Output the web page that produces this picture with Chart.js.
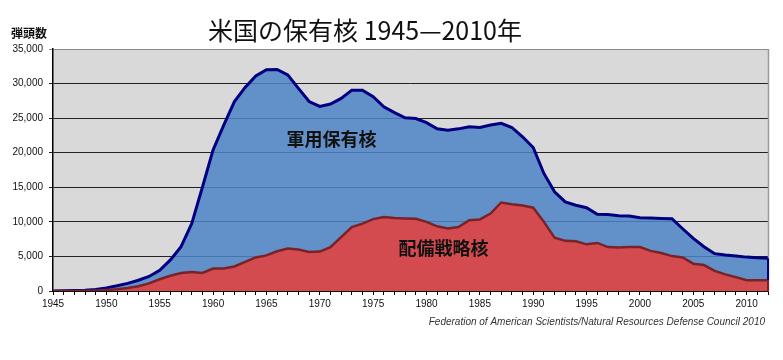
<!DOCTYPE html>
<html>
<head>
<meta charset="utf-8">
<script src="https://cdn.jsdelivr.net/npm/chart.js@4/dist/chart.umd.min.js"></script>
<style>
  body { margin: 0; background: #fff; }
  #wrap { width: 783px; height: 360px; }
</style>
</head>
<body>
<div id="wrap"><canvas id="nukeChart" width="783" height="360"></canvas></div>
<script>
// years 1945..2012
const years = [];
for (let y = 1945; y <= 2012; y++) years.push(y);

// total stockpile (軍用保有核)
const stockpile = [
  10, 30, 60, 120, 220, 450, 750, 1100, 1550, 2100,
  3000, 4500, 6400, 9750, 15000, 20400, 24000, 27400, 29450, 31100,
  32000, 32050, 31250, 29300, 27400, 26700, 27050, 27850, 29050, 29050,
  28100, 26650, 25800, 25050, 24950, 24350, 23450, 23250, 23450, 23750,
  23650, 24000, 24250, 23650, 22300, 20750, 17000, 14350, 12900, 12400,
  12050, 11100, 11050, 10900, 10850, 10600, 10550, 10500, 10450, 9000,
  7600, 6400, 5400, 5200, 5050, 4900, 4800, 4750
];

// deployed strategic (配備戦略核)
const deployed = [
  0, 0, 0, 20, 50, 150, 250, 450, 700, 1100,
  1700, 2200, 2600, 2750, 2600, 3250, 3250, 3550, 4200, 4850,
  5150, 5750, 6150, 6000, 5650, 5700, 6350, 7800, 9250, 9750,
  10400, 10700, 10550, 10500, 10450, 10000, 9350, 9050, 9250, 10250,
  10350, 11200, 12800, 12550, 12350, 12050, 10000, 7700, 7250, 7200,
  6750, 6950, 6350, 6300, 6350, 6350, 5800, 5500, 5050, 4850,
  3950, 3750, 2900, 2400, 2000, 1550, 1550, 1550
];

const yTicks = [0, 5000, 10000, 15000, 20000, 25000, 30000, 35000];
const xLabelYears = [1945, 1950, 1955, 1960, 1965, 1970, 1975, 1980, 1985, 1990, 1995, 2000, 2005, 2010];

const chartTitle = "米国の保有核 1945—2010年";
const yTitle = "弾頭数";
const sourceText = "Federation of American Scientists/Natural Resources Defense Council 2010";
// label text and where it sits, in data units
const seriesLabels = [
  { text: "軍用保有核", year: 1971.1, value: 22000 },
  { text: "配備戦略核", year: 1981.6, value: 6200 }
];

const cjk = "'Noto Sans CJK JP', 'Noto Sans', sans-serif";
const latin = "'Liberation Sans', Arial, sans-serif";

function toPoints(vals) {
  return years.map((yr, i) => ({ x: yr, y: vals[i] }));
}

const decorPlugin = {
  id: "decor",
  beforeDraw(chart) {
    const { ctx, chartArea: a } = chart;
    ctx.save();
    ctx.fillStyle = "#d9d9d9";
    ctx.fillRect(a.left, a.top, a.right - a.left, a.bottom - a.top);
    ctx.restore();
  },
  afterDraw(chart) {
    const { ctx, chartArea: a, scales } = chart;
    ctx.save();
    // right border, series edges run down it
    ctx.strokeStyle = "#9a9a9a";
    ctx.lineWidth = 1.5;
    ctx.beginPath();
    ctx.moveTo(a.right + 0.5, a.top);
    ctx.lineTo(a.right + 0.5, a.bottom);
    ctx.stroke();
    const last = years.length - 1;
    ctx.lineWidth = 2;
    ctx.strokeStyle = "#000080";
    ctx.beginPath();
    ctx.moveTo(a.right, scales.y.getPixelForValue(stockpile[last]));
    ctx.lineTo(a.right, scales.y.getPixelForValue(deployed[last]));
    ctx.stroke();
    ctx.strokeStyle = "#7a2226";
    ctx.beginPath();
    ctx.moveTo(a.right, scales.y.getPixelForValue(deployed[last]));
    ctx.lineTo(a.right, a.bottom);
    ctx.stroke();

    ctx.fillStyle = "#111";
    ctx.textAlign = "center";
    ctx.textBaseline = "middle";
    ctx.font = "25px " + cjk;
    ctx.fillText(chartTitle, 365, 30);

    ctx.font = "bold 12px " + cjk;
    ctx.textAlign = "left";
    ctx.fillText(yTitle, 11, 33);

    ctx.font = "bold 18px " + cjk;
    ctx.textAlign = "center";
    seriesLabels.forEach(l => {
      ctx.fillText(l.text, scales.x.getPixelForValue(l.year), scales.y.getPixelForValue(l.value));
    });

    ctx.font = "italic 10px " + latin;
    ctx.fillStyle = "#333";
    ctx.textAlign = "right";
    ctx.fillText(sourceText, 765, 322);
    ctx.restore();
  }
};

new Chart(document.getElementById("nukeChart"), {
  type: "line",
  data: {
    datasets: [
      {
        label: "軍用保有核",
        data: toPoints(stockpile),
        borderColor: "#000080",
        borderWidth: 3,
        backgroundColor: "rgba(76,131,196,0.85)",
        fill: "origin",
        pointRadius: 0,
        tension: 0,
        order: 2
      },
      {
        label: "配備戦略核",
        data: toPoints(deployed),
        borderColor: "#7a2226",
        borderWidth: 2.5,
        backgroundColor: "#d44b4f",
        fill: "origin",
        pointRadius: 0,
        tension: 0,
        order: 1
      }
    ]
  },
  options: {
    responsive: false,
    animation: false,
    devicePixelRatio: 1,
    layout: { padding: { top: 49, right: 15, bottom: 49, left: 0 } },
    plugins: { legend: { display: false }, tooltip: { enabled: false }, title: { display: false } },
    scales: {
      x: {
        type: "linear",
        min: 1945,
        max: 2012,
        afterBuildTicks(scale) {
          scale.ticks = years.map(v => ({ value: v }));
        },
        afterFit(scale) { scale.height = 20; },
        ticks: {
          autoSkip: false,
          maxRotation: 0,
          padding: 3,
          color: "#111",
          font: { family: latin, size: 10 },
          callback: v => (xLabelYears.includes(v) ? String(v) : "")
        },
        grid: { drawOnChartArea: false, drawTicks: true, tickLength: 4, color: "#000" },
        border: { color: "#000", width: 1.5 }
      },
      y: {
        min: 0,
        max: 35000,
        afterBuildTicks(scale) {
          scale.ticks = yTicks.map(v => ({ value: v }));
        },
        afterFit(scale) { scale.width = 53; },
        ticks: {
          padding: 6,
          color: "#111",
          font: { family: latin, size: 10 },
          callback: v => v.toLocaleString("en-US")
        },
        grid: {
          tickLength: 4,
          lineWidth: 1,
          color: ctx => (ctx.tick && ctx.tick.value === 35000 ? "#8a8a8a" : "#222")
        },
        border: { color: "#000", width: 1.5 }
      }
    }
  },
  plugins: [decorPlugin]
});
</script>
</body>
</html>
